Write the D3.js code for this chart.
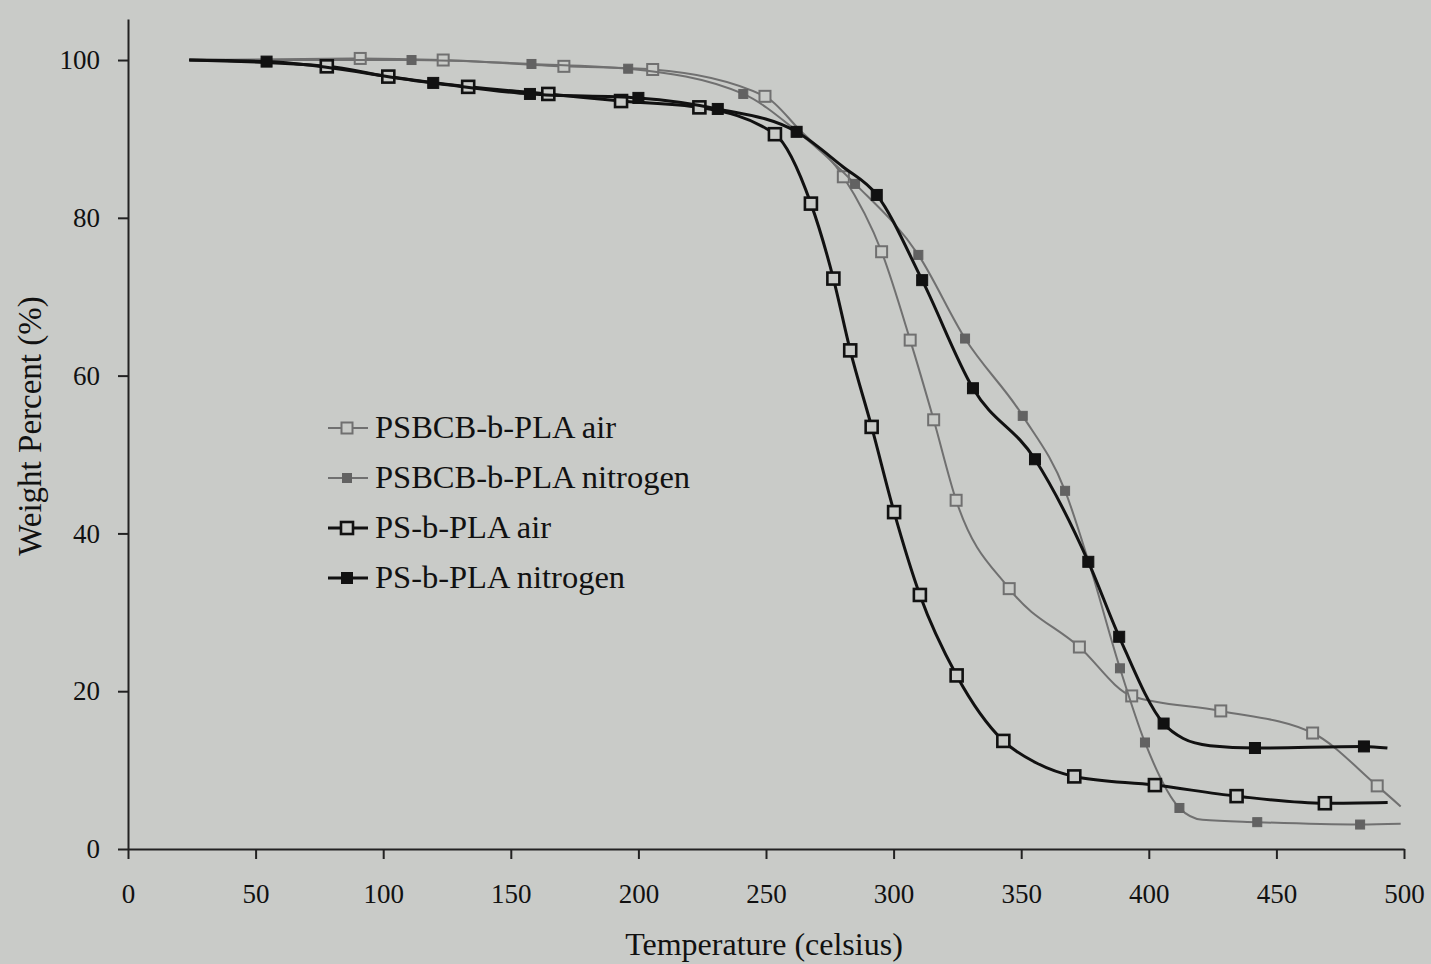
<!DOCTYPE html>
<html>
<head>
<meta charset="utf-8">
<script src="https://cdn.jsdelivr.net/npm/d3@7"></script>
<style>
  body { margin: 0; background: #c9cbc8; }
  text { font-family: "Liberation Serif", "Times New Roman", serif; fill: #111; }
</style>
</head>
<body>
<div id="chart"></div>
<script>
// temperature (celsius), weight percent, marker shown (1) or not (0)
var psbcbAir = [
  [24, 100, 0], [91, 100.2, 1], [123.5, 100, 1], [170.8, 99.2, 1], [205.6, 98.8, 1],
  [249.6, 95.4, 1], [263, 91.2, 0], [280.3, 85.2, 1], [295.3, 75.7, 1], [306.5, 64.5, 1],
  [315.7, 54.4, 1], [324.5, 44.2, 1], [345.3, 33.0, 1], [372.8, 25.6, 1], [393.3, 19.4, 1],
  [428.2, 17.5, 1], [464.2, 14.7, 1], [489.5, 8.0, 1], [498.7, 5.4, 0]
];
var psbcbN2 = [
  [24, 100, 0], [111.1, 100, 1], [158.1, 99.5, 1], [196, 98.9, 1], [241.1, 95.7, 1],
  [262, 91.0, 1], [284.9, 84.3, 1], [309.7, 75.3, 1], [328, 64.7, 1], [350.6, 54.9, 1],
  [367.2, 45.4, 1], [377, 35.8, 0], [388.7, 22.9, 1], [398.5, 13.5, 1], [412, 5.2, 1],
  [421, 3.7, 0], [442.5, 3.4, 1], [482.8, 3.1, 1], [498.7, 3.2, 0]
];
var psAir = [
  [24, 100, 0], [77.9, 99.2, 1], [102, 97.9, 1], [133.3, 96.6, 1], [164.7, 95.7, 1],
  [193.2, 94.8, 1], [223.9, 94.0, 1], [253.5, 90.6, 1], [267.6, 81.8, 1], [276.4, 72.3, 1],
  [283, 63.2, 1], [291.4, 53.5, 1], [300.2, 42.7, 1], [310.3, 32.2, 1], [324.7, 22.0, 1],
  [343, 13.7, 1], [356, 10.9, 0], [370.8, 9.2, 1], [402.4, 8.1, 1], [434.4, 6.7, 1],
  [469, 5.8, 1], [493.6, 5.9, 0]
];
var psN2 = [
  [24, 100, 0], [54.3, 99.8, 1], [119.6, 97.1, 1], [157.5, 95.7, 1], [200, 95.2, 1],
  [231.1, 93.8, 1], [262, 90.9, 1], [280, 86.5, 0], [293.4, 82.9, 1], [311.2, 72.1, 1],
  [331.1, 58.4, 1], [355.4, 49.4, 1], [376.3, 36.4, 1], [388.4, 26.9, 1], [405.8, 15.9, 1],
  [413.5, 14.0, 0], [424, 13.1, 0], [441.6, 12.8, 1], [484.3, 13.0, 1], [493.5, 12.8, 0]
];
var seriesNames = ["PSBCB-b-PLA air", "PSBCB-b-PLA nitrogen", "PS-b-PLA air", "PS-b-PLA nitrogen"];
var xTicks = [0, 50, 100, 150, 200, 250, 300, 350, 400, 450, 500];
var yTicks = [0, 20, 40, 60, 80, 100];

var W = 1431, H = 964;
var bg = "#c9cbc8";
var svg = d3.select("#chart").append("svg").attr("width", W).attr("height", H);
svg.append("rect").attr("width", W).attr("height", H).attr("fill", bg);

var x = d3.scaleLinear().domain([0, 500]).range([128, 1404]);
var y = d3.scaleLinear().domain([0, 105.2]).range([849, 19]);

// axes
var xAxis = svg.append("g").attr("transform", "translate(0,849)")
  .call(d3.axisBottom(x).tickValues(xTicks).tickSize(10).tickSizeOuter(0).tickPadding(25));
var yAxis = svg.append("g").attr("transform", "translate(128,0)")
  .call(d3.axisLeft(y).tickValues(yTicks).tickSize(10).tickSizeOuter(0).tickPadding(18));
[xAxis, yAxis].forEach(function(a){
  a.select(".domain").attr("stroke", "#222").attr("stroke-width", 2);
  a.selectAll(".tick line").attr("stroke", "#222").attr("stroke-width", 2);
  a.selectAll(".tick text").attr("font-size", 27).attr("fill", "#111")
    .style("font-family", "Liberation Serif");
});

svg.append("text").attr("x", 764).attr("y", 955).attr("text-anchor", "middle")
  .attr("font-size", 32).text("Temperature (celsius)");
svg.append("text").attr("transform", "translate(41,426) rotate(-90)").attr("text-anchor", "middle")
  .attr("font-size", 33).text("Weight Percent (%)");

var styles = [
  {stroke: "#707070", width: 2, size: 11, fill: bg, mstroke: "#707070", mw: 2},
  {stroke: "#707070", width: 2, size: 9, fill: "#626262", mstroke: "#626262", mw: 1},
  {stroke: "#111", width: 3, size: 12, fill: bg, mstroke: "#111", mw: 2.6},
  {stroke: "#111", width: 3, size: 11, fill: "#111", mstroke: "#111", mw: 1}
];
var allSeries = [psbcbAir, psbcbN2, psAir, psN2];

var line = d3.line().x(function(d){ return x(d[0]); }).y(function(d){ return y(d[1]); })
  .curve(d3.curveMonotoneX);

allSeries.forEach(function(data, i){
  var s = styles[i];
  var g = svg.append("g");
  g.append("path").datum(data).attr("d", line).attr("fill", "none")
    .attr("stroke", s.stroke).attr("stroke-width", s.width).attr("stroke-linejoin", "round");
  g.selectAll("rect").data(data.filter(function(d){ return d[2]; })).enter().append("rect")
    .attr("x", function(d){ return x(d[0]) - s.size / 2; })
    .attr("y", function(d){ return y(d[1]) - s.size / 2; })
    .attr("width", s.size).attr("height", s.size)
    .attr("fill", s.fill).attr("stroke", s.mstroke).attr("stroke-width", s.mw);
});

// legend
var legend = svg.append("g").attr("transform", "translate(328,428)");
seriesNames.forEach(function(name, i){
  var s = styles[i];
  var row = legend.append("g").attr("transform", "translate(0," + (i * 50) + ")");
  row.append("line").attr("x1", 0).attr("x2", 40).attr("y1", 0).attr("y2", 0)
    .attr("stroke", s.stroke).attr("stroke-width", s.width);
  row.append("rect").attr("x", 19 - s.size / 2).attr("y", -s.size / 2)
    .attr("width", s.size).attr("height", s.size)
    .attr("fill", s.fill).attr("stroke", s.mstroke).attr("stroke-width", s.mw);
  row.append("text").attr("x", 47).attr("y", 10).attr("font-size", 32.5).text(name);
});
</script>
</body>
</html>
